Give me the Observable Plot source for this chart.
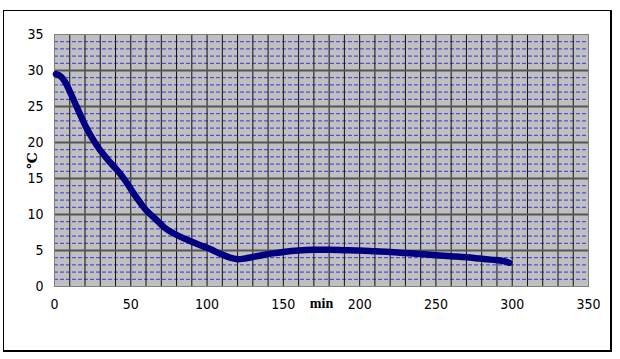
<!DOCTYPE html>
<html><head><meta charset="utf-8">
<script src="https://cdn.jsdelivr.net/npm/d3@7"></script>
<script src="https://cdn.jsdelivr.net/npm/@observablehq/plot@0.6"></script>
<style>
html,body{margin:0;padding:0;background:#fff;}
#wrap{position:relative;width:620px;height:359px;overflow:hidden;}
#wrap svg{position:absolute;left:0;top:0;}
#frame{position:absolute;left:3px;top:10px;width:606px;height:339px;border-left:1px solid #000;border-top:1px solid #000;border-right:2px solid #000;border-bottom:2px solid #000;pointer-events:none;}
</style></head><body><div id="wrap"><div id="frame"></div></div>
<script>
const minutes = [1, 4, 7, 10, 13, 17, 21, 25, 30, 35, 40, 44, 48, 52, 56, 60, 64, 68, 72, 77, 83, 90, 96, 102, 109, 115, 120, 125, 130, 136, 143, 150, 160, 170, 180, 190, 200, 210, 220, 230, 240, 250, 260, 270, 280, 288, 295, 298];
const temperature = [29.5, 29.2, 28.4, 27.1, 25.7, 23.8, 22.0, 20.5, 18.9, 17.6, 16.4, 15.4, 14.2, 12.9, 11.7, 10.6, 9.8, 9.0, 8.2, 7.5, 6.85, 6.2, 5.7, 5.2, 4.5, 4.0, 3.8, 3.9, 4.1, 4.35, 4.6, 4.8, 5.0, 5.1, 5.1, 5.05, 5.0, 4.9, 4.8, 4.65, 4.5, 4.35, 4.2, 4.05, 3.85, 3.7, 3.5, 3.3];
const xTicks = [0, 50, 100, 150, 200, 250, 300, 350];
const yTicks = [0, 5, 10, 15, 20, 25, 30, 35];
const xLabel = "min";
const yLabel = "℃";

const data = minutes.map((t, i) => ({t, v: temperature[i]}));
const xGrid = d3.range(0, 351, 10);
const yMinor = d3.range(1, 35).filter(v => v % 5 !== 0);
const yMajor = d3.range(5, 35, 5);

const chart = Plot.plot({
  width: 620, height: 359,
  marginLeft: 54, marginRight: 32, marginTop: 34, marginBottom: 73,
  style: {fontFamily: "'Liberation Sans Narrow','Arial Narrow','DejaVu Sans Condensed',sans-serif", fontSize: "14px", color: "#000", background: "transparent"},
  x: {domain: [0, 350], ticks: xTicks, label: xLabel, labelArrow: "none", labelAnchor: "center", tickSize: 0, tickPadding: 13, labelOffset: 21},
  y: {domain: [0, 35], ticks: yTicks, label: yLabel, labelArrow: "none", labelAnchor: "center", tickSize: 0, tickPadding: 11, labelOffset: 27},
  marks: [
    Plot.frame({fill: "#c0c0c0"}),
    Plot.ruleY(yMinor, {stroke: "#3535e0", strokeDasharray: "4,2", strokeWidth: 1}),
    Plot.ruleX(xGrid, {stroke: "#111", strokeWidth: 1}),
    Plot.ruleY(yMajor, {stroke: "#555", strokeWidth: 2}),
    Plot.frame({stroke: "#808080"}),
    Plot.line(data, {x: "t", y: "v", stroke: "#000080", strokeWidth: 6.5, curve: "catmull-rom", strokeLinecap: "round"})
  ]
});
d3.select(chart).selectAll('g[aria-label="x-axis label"] text, g[aria-label="y-axis label"] text')
  .style("font-family", "'Liberation Serif','DejaVu Serif',serif").style("font-weight", "bold").style("font-size", "14px");
document.getElementById("wrap").prepend(chart);
</script></body></html>
